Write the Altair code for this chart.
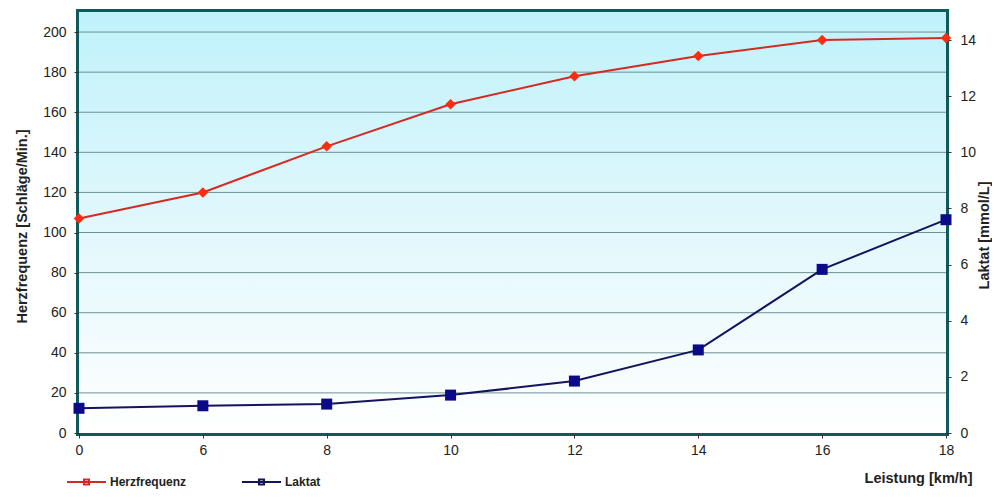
import altair as alt
import pandas as pd

# ---- data ----
speed = ["0", "6", "8", "10", "12", "14", "16", "18"]
herzfrequenz = [107, 120, 143, 164, 178, 188, 196, 197]
laktat = [0.88, 0.97, 1.03, 1.35, 1.85, 2.96, 5.83, 7.6]
series_names = ["Herzfrequenz", "Laktat"]
hf_ticks = [0, 20, 40, 60, 80, 100, 120, 140, 160, 180, 200]
lak_ticks = [0, 2, 4, 6, 8, 10, 12, 14]
grid_values = [20, 40, 60, 80, 100, 120, 140, 160, 180, 200]

W, H = 867, 421
FONT = "Liberation Sans"
RED_LINE = "#d42a22"
RED_PT = "#ff2a10"
NAVY_LINE = "#14145e"
NAVY_PT = "#0b0b8a"
BORDER = "#0e5a5c"
GRID = "#6c9292"

df_hf = pd.DataFrame({"speed": speed, "value": herzfrequenz, "series": series_names[0]})
df_lak = pd.DataFrame({"speed": speed, "value": laktat, "series": series_names[1]})
df_grid = pd.DataFrame({"g": grid_values})
df_bg = pd.DataFrame({"a": [0]})

x_enc = alt.X(
    "speed:N",
    sort=speed,
    scale=alt.Scale(type="point", padding=0),
    axis=alt.Axis(
        title="Leistung [km/h]",
        labelAngle=0,
        domain=False,
        ticks=True,
        tickSize=5,
        tickColor="#333333",
        labelPadding=5,
        labelFontSize=14,
        labelColor="#222222",
        titleFontSize=14.5,
        titleFontWeight="bold",
        titleColor="#222222",
        titleAlign="right",
        titleAnchor="start",
        titleBaseline="middle",
        titleX=893,
        titleY=45,
    ),
)

color_scale = alt.Scale(domain=series_names, range=[RED_LINE, NAVY_LINE])
legend = alt.Legend(
    title=None,
    orient="none",
    legendX=-13,
    legendY=449,
    direction="horizontal",
    symbolType="M-1,0H1M-0.13,-0.13H0.13V0.13H-0.13Z",
    symbolSize=1521,
    symbolStrokeWidth=2,
    labelFont=FONT,
    labelFontSize=12,
    labelFontWeight="bold",
    labelColor="#222222",
    labelOffset=3,
    columnPadding=51,
)

hf_scale = alt.Scale(domain=[0, 210], nice=False, zero=True)
lak_scale = alt.Scale(domain=[0, 15], nice=False, zero=True)

bg = alt.Chart(df_bg).mark_rect(
    color={
        "gradient": "linear",
        "x1": 0, "y1": 0, "x2": 0, "y2": 1,
        "stops": [
            {"offset": 0, "color": "#c0f2fb"},
            {"offset": 0.55, "color": "#e4f8fc"},
            {"offset": 1, "color": "#ffffff"},
        ],
    }
).encode(x=alt.value(0), x2=alt.value(W), y=alt.value(0), y2=alt.value(H))

grid = alt.Chart(df_grid).mark_rule(color=GRID, strokeWidth=1).encode(
    y=alt.Y("g:Q", scale=hf_scale, axis=None)
)

hf_line = alt.Chart(df_hf).mark_line(strokeWidth=2).encode(
    x=x_enc,
    y=alt.Y(
        "value:Q",
        scale=hf_scale,
        axis=alt.Axis(
            orient="left",
            values=hf_ticks,
            grid=False,
            domain=False,
            tickSize=5,
            tickColor="#333333",
            labelPadding=8,
            labelFontSize=14,
            labelColor="#222222",
            title="Herzfrequenz [Schläge/Min.]",
            titleFontSize=14.5,
            titleFontWeight="bold",
            titleColor="#222222",
            titleAngle=270,
            titleAlign="center",
            titleBaseline="middle",
            titleX=-57,
            titleY=214,
        ),
    ),
    color=alt.Color("series:N", scale=color_scale, legend=legend),
)

hf_pts = alt.Chart(df_hf).mark_point(shape="diamond", filled=True, size=110, color=RED_PT, opacity=1).encode(
    x=x_enc,
    y=alt.Y("value:Q", scale=hf_scale, axis=None),
)

lak_line = alt.Chart(df_lak).mark_line(strokeWidth=2).encode(
    x=x_enc,
    y=alt.Y(
        "value:Q",
        scale=lak_scale,
        axis=alt.Axis(
            orient="right",
            values=lak_ticks,
            grid=False,
            domain=False,
            tickSize=5,
            tickColor="#333333",
            labelPadding=9,
            labelFontSize=14,
            labelColor="#222222",
            title="Laktat [mmol/L]",
            titleFontSize=14.5,
            titleFontWeight="bold",
            titleColor="#222222",
            titleAngle=270,
            titleAlign="center",
            titleBaseline="middle",
            titleX=38,
            titleY=223,
        ),
    ),
    color=alt.Color("series:N", scale=color_scale, legend=legend),
)

lak_pts = alt.Chart(df_lak).mark_point(shape="square", filled=True, size=121, color=NAVY_PT, opacity=1).encode(
    x=x_enc,
    y=alt.Y("value:Q", scale=lak_scale, axis=None),
)

chart = (
    alt.layer(bg, grid, hf_line, hf_pts, lak_line, lak_pts)
    .resolve_scale(y="independent")
    .properties(
        width=W,
        height=H,
        autosize=alt.AutoSizeParams(type="none"),
        padding={"left": 71, "top": 4, "right": 46, "bottom": 59},
        background="#ffffff",
    )
    .configure_view(stroke=BORDER, strokeWidth=6)
    .configure_axis(labelFont=FONT, titleFont=FONT)
    .configure_legend(labelFont=FONT)
)

chart.save("out.html", embed_options={"renderer": "svg", "actions": False})
